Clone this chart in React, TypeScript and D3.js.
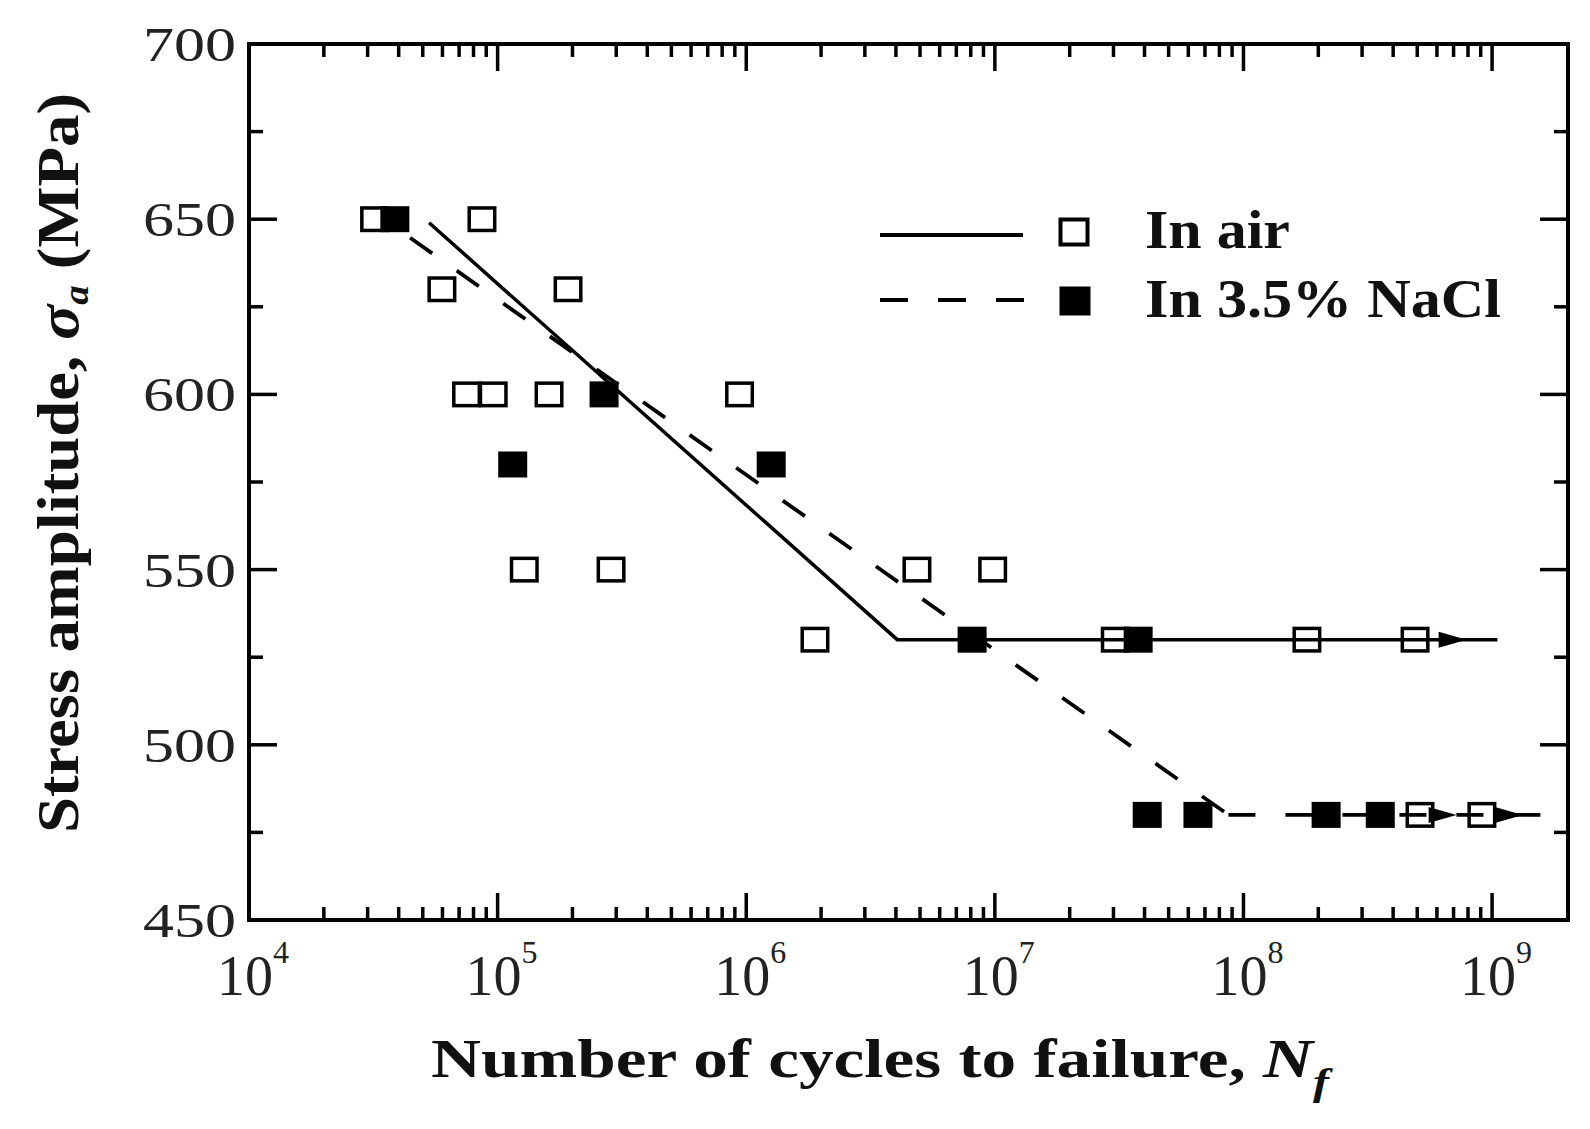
import React from 'react';
import * as d3 from 'd3';

// S-N data (cycles, MPa)
const airCycles = [3.2e4, 8.65e4, 5.97e4, 1.92e5, 7.5e4, 9.6e4, 1.61e5, 9.4e5, 1.28e5, 2.86e5, 4.86e6, 9.8e6, 1.89e6, 3.05e7, 1.8e8, 4.9e8, 5.13e8, 9.1e8];
const airStress = [650, 650, 630, 630, 600, 600, 600, 600, 550, 550, 550, 550, 530, 530, 530, 530, 480, 480];

const naclCycles = [3.86e4, 2.68e5, 1.15e5, 1.26e6, 8.1e6, 3.77e7, 4.1e7, 6.56e7, 2.15e8, 3.55e8];
const naclStress = [650, 600, 580, 580, 530, 530, 480, 480, 480, 480];

// fitted curves (knee points)
const airFitCycles = [5.3e4, 4.05e6, 1.05e9];
const airFitStress = [649, 530, 530];
const naclFitCycles = [4.0e4, 8.7e7, 1.71e9];
const naclFitStress = [647, 480, 480];

// run-out arrows (tip position)
const arrowCycles = [7.9e8, 7.2e8, 1.33e9];
const arrowStress = [530, 480, 480];

const yTicks = [450, 500, 550, 600, 650, 700];
const yMinor = [475, 525, 575, 625, 675];
const xExponents = [4, 5, 6, 7, 8, 9];

const legendItems = ['In air', 'In 3.5% NaCl'];

const serif = "'Liberation Serif', Tinos, 'Times New Roman', Times, serif";

const App = () => {
  const width = 1590;
  const height = 1129;
  const left = 249, right = 1568, top = 44, bottom = 920;

  const x = d3.scaleLog().domain([1e4, 2.02e9]).range([left, right]);
  const y = d3.scaleLinear().domain([450, 700]).range([bottom, top]);

  const xMajor = xExponents.map(e => Math.pow(10, e));
  const xMinor: number[] = [];
  for (let e = 4; e < 9; e++) {
    for (let m = 2; m <= 9; m++) xMinor.push(m * Math.pow(10, e));
  }

  const line = d3.line<[number, number]>()
    .x(d => x(d[0]))
    .y(d => y(d[1]));

  const airFit: [number, number][] = airFitCycles.map((n, i) => [n, airFitStress[i]]);
  const naclFit: [number, number][] = naclFitCycles.map((n, i) => [n, naclFitStress[i]]);

  const mw = 29, mh = 26;
  const major = 27, minor = 13;

  return (
    <svg width={width} height={height} style={{ position: 'absolute', left: 0, top: 0, background: '#fff', fontFamily: serif }}>
      <rect x={0} y={0} width={width} height={height} fill="#fff" />

      {/* fitted lines */}
      <path d={line(airFit) || ''} fill="none" stroke="#000" strokeWidth={3.5} />
      <path d={line(naclFit.slice(0, 2)) || ''} fill="none" stroke="#000" strokeWidth={3.8}
        strokeDasharray="27 30" strokeDashoffset={43} />
      <path d={line(naclFit.slice(1)) || ''} fill="none" stroke="#000" strokeWidth={3.8}
        strokeDasharray="27 30" />

      {/* run-out arrows */}
      {arrowCycles.map((n, i) => {
        const tx = x(n), ty = y(arrowStress[i]);
        return <path key={'ar' + i} d={`M${tx},${ty} L${tx - 28},${ty - 8} L${tx - 28},${ty + 8} Z`} fill="#000" />;
      })}

      {/* markers */}
      {airCycles.map((n, i) => (
        <rect key={'a' + i} x={x(n) - (mw - 3.5) / 2} y={y(airStress[i]) - (mh - 3.5) / 2}
          width={mw - 3.5} height={mh - 3.5} fill="none" stroke="#000" strokeWidth={3.5} />
      ))}
      {naclCycles.map((n, i) => (
        <rect key={'n' + i} x={x(n) - mw / 2} y={y(naclStress[i]) - mh / 2}
          width={mw} height={mh} fill="#000" />
      ))}

      {/* frame */}
      <rect x={left} y={top} width={right - left} height={bottom - top} fill="none" stroke="#000" strokeWidth={4} />

      {/* ticks */}
      <g stroke="#000" strokeWidth={3.5}>
        {xMajor.map(v => (
          <g key={'xm' + v}>
            <line x1={x(v)} x2={x(v)} y1={bottom} y2={bottom - major} />
            <line x1={x(v)} x2={x(v)} y1={top} y2={top + major} />
          </g>
        ))}
        {xMinor.map(v => (
          <g key={'xn' + v}>
            <line x1={x(v)} x2={x(v)} y1={bottom} y2={bottom - minor} />
            <line x1={x(v)} x2={x(v)} y1={top} y2={top + minor} />
          </g>
        ))}
        {yTicks.map(v => (
          <g key={'ym' + v}>
            <line x1={left} x2={left + 28} y1={y(v)} y2={y(v)} />
            <line x1={right} x2={right - 28} y1={y(v)} y2={y(v)} />
          </g>
        ))}
        {yMinor.map(v => (
          <g key={'yn' + v}>
            <line x1={left} x2={left + 14} y1={y(v)} y2={y(v)} />
            <line x1={right} x2={right - 14} y1={y(v)} y2={y(v)} />
          </g>
        ))}
      </g>

      {/* y tick labels */}
      {yTicks.map(v => (
        <text key={'yl' + v} x={236} y={y(v) + 17} textAnchor="end" fontSize={49}
          fill="#222" textLength={93} lengthAdjust="spacingAndGlyphs">{v}</text>
      ))}

      {/* x tick labels */}
      {xExponents.map(e => {
        const px = x(Math.pow(10, e));
        return (
          <g key={'xl' + e} fill="#222">
            <text x={px - 4} y={995} textAnchor="middle" fontSize={56}>10</text>
            <text x={px + 24} y={963} fontSize={32}>{e}</text>
          </g>
        );
      })}

      {/* axis titles */}
      <text x={431} y={1077} fontWeight="bold" fontSize={55} fill="#111"
        textLength={898} lengthAdjust="spacingAndGlyphs">
        Number of cycles to failure, <tspan fontStyle="italic">N</tspan>
        <tspan fontStyle="italic" fontSize={38} dy={18}>f</tspan>
      </text>

      <text transform="translate(78,463) rotate(-90)" textAnchor="middle"
        fontWeight="bold" fontSize={60} fill="#111" textLength={740} lengthAdjust="spacingAndGlyphs">
        Stress amplitude, <tspan fontStyle="italic">σ</tspan>
        <tspan fontStyle="italic" fontSize={36} dy={10}>a</tspan>
        <tspan dy={-10}> (MPa)</tspan>
      </text>

      {/* legend */}
      <line x1={880} x2={1023} y1={235} y2={235} stroke="#000" strokeWidth={4} />
      <rect x={1074 - 13.5} y={232 - 12.5} width={27} height={25} fill="none" stroke="#000" strokeWidth={4} />
      <line x1={880} x2={1025} y1={300} y2={300} stroke="#000" strokeWidth={4} strokeDasharray="28 30" />
      <rect x={1075 - 15.5} y={301 - 14.5} width={31} height={29} fill="#000" />
      <text x={1145} y={248} fontWeight="bold" fontSize={55} fill="#111"
        textLength={145} lengthAdjust="spacingAndGlyphs">{legendItems[0]}</text>
      <text x={1145} y={317} fontWeight="bold" fontSize={55} fill="#111"
        textLength={356} lengthAdjust="spacingAndGlyphs">{legendItems[1]}</text>
    </svg>
  );
};

export default App;
